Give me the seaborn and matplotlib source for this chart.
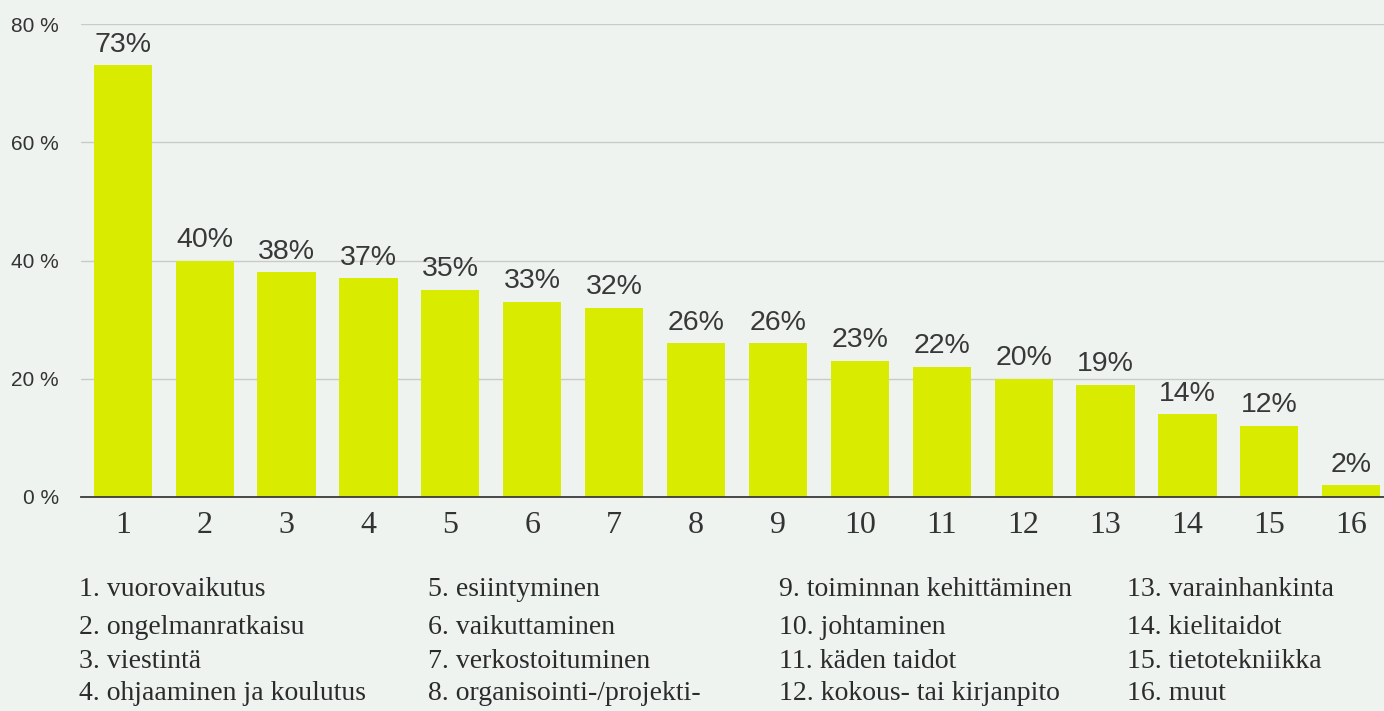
import matplotlib
matplotlib.use("Agg")
import matplotlib.pyplot as plt
import seaborn as sns
import pandas as pd

categories = [str(i) for i in range(1, 17)]
values = [73, 40, 38, 37, 35, 33, 32, 26, 26, 23, 22, 20, 19, 14, 12, 2]
yticks = [0, 20, 40, 60, 80]
ytick_labels = ["0 %", "20 %", "40 %", "60 %", "80 %"]
legend_items = [
    "1. vuorovaikutus", "2. ongelmanratkaisu", "3. viestintä", "4. ohjaaminen ja koulutus",
    "5. esiintyminen", "6. vaikuttaminen", "7. verkostoituminen", "8. organisointi-/projekti-",
    "9. toiminnan kehittäminen", "10. johtaminen", "11. käden taidot", "12. kokous- tai kirjanpito",
    "13. varainhankinta", "14. kielitaidot", "15. tietotekniikka", "16. muut",
]

BG = "#eef3ef"
BAR = "#d9ec00"

sns.set_theme(style="white")
plt.rcParams["font.family"] = ["Liberation Sans", "DejaVu Sans"]

fig = plt.figure(figsize=(13.84, 7.11), dpi=100, facecolor=BG)
ax = fig.add_axes([81 / 1384, 214 / 711, 1 - 81 / 1384, (497 - 24) / 711])
ax.set_facecolor(BG)

df = pd.DataFrame({"cat": categories, "val": values})
sns.barplot(data=df, x="cat", y="val", color=BAR, width=0.71, saturation=1,
            linewidth=0, ax=ax, zorder=3)

ax.set_ylim(0, 80)
ax.set_xlim(-0.51, 15.4)
ax.set_yticks(yticks)
ax.set_yticklabels(ytick_labels, fontsize=15, color="#333333")
ax.yaxis.grid(True, color="#c9cbc9", linewidth=1.0, zorder=0)
ax.set_axisbelow(True)
ax.tick_params(axis="y", length=0, pad=16)
ax.tick_params(axis="x", length=0, pad=10)
for lbl in ax.get_xticklabels():
    lbl.set_fontfamily(["Liberation Serif", "DejaVu Serif"])
    lbl.set_fontsize(23)
    lbl.set_color("#333333")
ax.set_xlabel("")
ax.set_ylabel("")
for s in ["top", "right", "left"]:
    ax.spines[s].set_visible(False)
ax.spines["bottom"].set_color("#3a3a3a")
ax.spines["bottom"].set_linewidth(1.3)
ax.spines["bottom"].set_zorder(4)

for i, v in enumerate(values):
    ax.annotate(f"{v}%", (i, v), xytext=(0, 5.5), textcoords="offset points",
                ha="center", va="bottom", fontsize=20.5, color="#383838",
                annotation_clip=False)

col_x = [79, 428, 779, 1127]
row_y = [590, 627, 661, 694]
for k, txt in enumerate(legend_items):
    c, r = divmod(k, 4)
    fig.text(col_x[c] / 1384, 1 - row_y[r] / 711, txt, ha="left", va="center",
             fontsize=20, color="#2b2b2b", family=["Liberation Serif", "DejaVu Serif"])

fig.savefig("out.png", dpi=100, facecolor=BG)
